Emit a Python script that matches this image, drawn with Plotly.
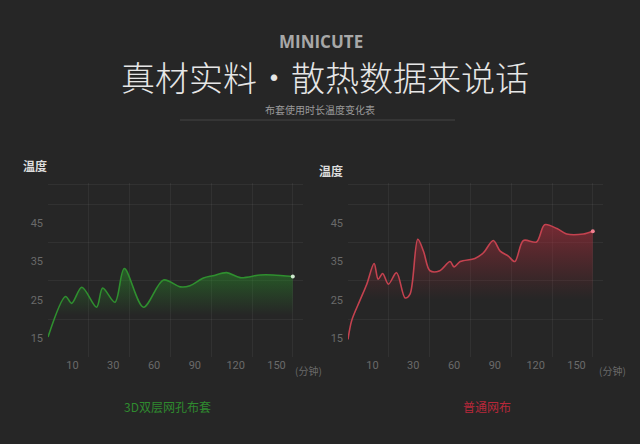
import plotly.graph_objects as go

# DATA #
# x in grid slots (each slot is one labelled step on the time axis)
green_x = [0, 0.43, 0.58, 0.83, 1.19, 1.34, 1.64, 1.87, 2.34, 2.83, 3.24, 3.48,
           3.81, 4.04, 4.38, 4.71, 5.2, 5.51, 6.0]
green_y = [15.3, 25.9, 24.1, 28.3, 23.1, 28.1, 24.4, 33.2, 23.1, 30.2, 28.4, 28.7,
           30.7, 31.3, 32.1, 30.8, 31.5, 31.5, 31.1]

red_x = [0, 0.09, 0.29, 0.46, 0.64, 0.74, 0.85, 0.99, 1.19, 1.40, 1.52, 1.71,
         1.85, 2.01, 2.25, 2.5, 2.6, 2.75, 3.11, 3.32, 3.56, 3.73, 3.93, 4.09,
         4.30, 4.62, 4.82, 5.12, 5.36, 5.77, 6.0]
red_y = [14.7, 19.6, 24.8, 29.1, 34.5, 30.4, 31.9, 29.1, 32.1, 25.5, 26.5, 40.8,
         37.7, 32.6, 32.6, 35.0, 33.6, 35.0, 35.8, 37.3, 40.5, 37.7, 36.4, 35.0,
         40.5, 40.1, 44.6, 43.6, 42.2, 42.2, 42.9]

x_tick_pos = [0.6, 1.6, 2.6, 3.6, 4.6, 5.6]
x_tick_text = ['10', '30', '60', '90', '120', '150']
y_tick_vals = [15, 25, 35, 45]

BG = '#262626'
CJK = 'Noto Sans CJK SC'

fig = go.Figure()

# GREEN SERIES #
fig.add_trace(go.Scatter(
    x=green_x, y=green_y, mode='lines', line=dict(color='#2f8f2f', width=1.6, shape='spline', smoothing=0.9),
    fill='tozeroy',
    fillgradient=dict(type='vertical', start=21, stop=33,
                      colorscale=[[0, 'rgba(40,140,40,0)'], [1, 'rgba(40,150,40,0.5)']]),
    xaxis='x', yaxis='y', hoverinfo='skip'))
fig.add_trace(go.Scatter(
    x=green_x[-1:], y=green_y[-1:], mode='markers', marker=dict(color='#cfe8cf', size=4),
    xaxis='x', yaxis='y', hoverinfo='skip'))

# RED SERIES #
fig.add_trace(go.Scatter(
    x=red_x, y=red_y, mode='lines', line=dict(color='#c4424f', width=1.6, shape='spline', smoothing=0.9),
    fill='tozeroy',
    fillgradient=dict(type='vertical', start=25, stop=43,
                      colorscale=[[0, 'rgba(150,40,50,0)'], [1, 'rgba(170,45,60,0.55)']]),
    xaxis='x2', yaxis='y2', hoverinfo='skip'))
fig.add_trace(go.Scatter(
    x=red_x[-1:], y=red_y[-1:], mode='markers', marker=dict(color='#f08090', size=4),
    xaxis='x2', yaxis='y2', hoverinfo='skip'))

grid_col = 'rgba(255,255,255,0.05)'
xax = dict(range=[0, 6.25], tickvals=x_tick_pos, ticktext=x_tick_text, showgrid=False,
           zeroline=False, showline=False, ticks='',
           tickfont=dict(family='Roboto', size=11, color='#6a6a6a'),
           minor=dict(tickvals=[0, 1, 2, 3, 4, 5, 6], showgrid=True, gridcolor=grid_col, gridwidth=1))
yax = dict(range=[10, 55.5], tickvals=y_tick_vals, showgrid=False, zeroline=False,
           showline=False, ticks='', ticklabelstandoff=4,
           tickfont=dict(family='Roboto', size=11, color='#6a6a6a'),
           minor=dict(tickvals=[20, 30, 40, 50, 55], showgrid=True, gridcolor=grid_col, gridwidth=1))

fig.update_layout(
    width=640, height=444, margin=dict(l=0, r=0, t=0, b=0),
    paper_bgcolor=BG, plot_bgcolor=BG, showlegend=False,
    xaxis=dict(xax, domain=[48 / 640, 303 / 640], anchor='y'),
    yaxis=dict(yax, domain=[0.195, 0.588], anchor='x'),
    xaxis2=dict(xax, domain=[348 / 640, 603 / 640], anchor='y2'),
    yaxis2=dict(yax, domain=[0.195, 0.588], anchor='x2'),
)

# TEXTS #
def txt(x, y, s, size, color, family=CJK, weight='normal'):
    fig.add_annotation(x=x / 640, y=1 - y / 444, xref='paper', yref='paper', text=s,
                       showarrow=False, xanchor='center', yanchor='middle', borderpad=0,
                       font=dict(family=family, size=size, color=color, weight=weight))

txt(321, 41, 'MINICUTE', 17, '#a8a8a8', family='Open Sans', weight='bold')
txt(325, 76, '真材实料·散热数据来说话', 34, '#e6e6e6', weight=300)
txt(320, 109, '布套使用时长温度变化表', 10, '#9a9a9a')
txt(35, 165, '温度', 12, '#dddddd', weight='bold')
txt(331, 170, '温度', 12, '#dddddd', weight='bold')
txt(308, 370, '(分钟)', 10, '#6a6a6a')
txt(612, 370, '(分钟)', 10, '#6a6a6a')
txt(167, 406, '3D双层网孔布套', 12, '#2f8a2f')
txt(487, 406, '普通网布', 12, '#b8283a')

fig.add_shape(type='line', xref='paper', yref='paper', x0=180 / 640, x1=455 / 640,
              y0=1 - 120 / 444, y1=1 - 120 / 444, line=dict(color='#444444', width=1))

# page body has a default margin; drop it so the figure fills the window
fig.write_html("out.html", config={'displayModeBar': False},
               post_script="document.body.style.margin='0';document.body.style.background='#262626';")
